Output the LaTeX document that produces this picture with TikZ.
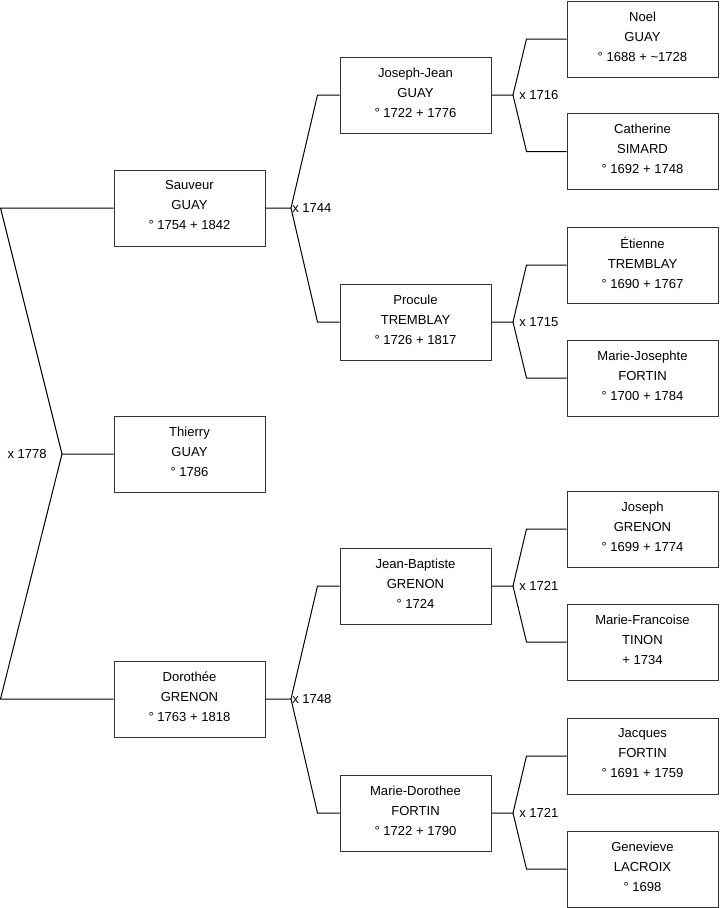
\documentclass[tikz,border=0pt]{standalone}
\usepackage{fontspec}
\setmainfont{Liberation Sans}
\usepackage{tikz}
\usetikzlibrary{calc}

\begin{document}
\begin{tikzpicture}[
    x=0.75pt, y=-0.75pt,
    person/.style={rectangle, draw=black!80, line width=0.75pt, align=center, minimum width=113.25pt, minimum height=57pt, inner sep=0pt, font=\fontsize{9.8}{15}\selectfont},
    link/.style={draw=black, line width=0.75pt},
    wed/.style={inner sep=0pt, font=\fontsize{9.8}{11}\selectfont}
]
\useasboundingbox (0,0) rectangle (719,908);

% generation 1
\node[person] (sauveur) at (189.5,208) {Sauveur\\GUAY\\° 1754 + 1842\\[-11pt]};
\node[person] (thierry) at (189.5,454) {Thierry\\GUAY\\° 1786\\[-11pt]};
\node[person] (dorothee) at (189.5,699) {Dorothée\\GRENON\\° 1763 + 1818\\[-11pt]};

% generation 2
\node[person] (josephjean) at (415.5,95) {Joseph-Jean\\GUAY\\° 1722 + 1776\\[-11pt]};
\node[person] (procule) at (415.5,322) {Procule\\TREMBLAY\\° 1726 + 1817\\[-11pt]};
\node[person] (jeanbaptiste) at (415.5,586) {Jean-Baptiste\\GRENON\\° 1724\\[-11pt]};
\node[person] (mariedorothee) at (415.5,813) {Marie-Dorothee\\FORTIN\\° 1722 + 1790\\[-11pt]};

% generation 3
\node[person] (noel) at (642.5,39) {Noel\\GUAY\\° 1688 + \textasciitilde1728\\[-11pt]};
\node[person] (catherine) at (642.5,151.5) {Catherine\\SIMARD\\° 1692 + 1748\\[-11pt]};
\node[person] (etienne) at (642.5,265) {Étienne\\TREMBLAY\\° 1690 + 1767\\[-11pt]};
\node[person] (mariejosephte) at (642.5,378) {Marie-Josephte\\FORTIN\\° 1700 + 1784\\[-11pt]};
\node[person] (joseph) at (642.5,529) {Joseph\\GRENON\\° 1699 + 1774\\[-11pt]};
\node[person] (mariefrancoise) at (642.5,642) {Marie-Francoise\\TINON\\+ 1734\\[-11pt]};
\node[person] (jacques) at (642.5,756) {Jacques\\FORTIN\\° 1691 + 1759\\[-11pt]};
\node[person] (genevieve) at (642.5,869) {Genevieve\\LACROIX\\° 1698\\[-11pt]};

% marriage forks
\coordinate (w1778) at (62,454);
\coordinate (w1744) at (291,208);
\coordinate (w1748) at (291,699);
\coordinate (w1716) at (513,95);
\coordinate (w1715) at (513,322);
\coordinate (w1721a) at (513,586);
\coordinate (w1721b) at (513,813);

\node[wed, anchor=east] (x1778) at ($(w1778)+(-15,0)$) {x 1778};
\node[wed, anchor=west] (x1744) at ($(w1744)+(1,0)$) {x 1744};
\node[wed, anchor=west] (x1748) at ($(w1748)+(1,0)$) {x 1748};
\node[wed, anchor=west] (x1716) at ($(w1716)+(6,0)$) {x 1716};
\node[wed, anchor=west] (x1715) at ($(w1715)+(6,0)$) {x 1715};
\node[wed, anchor=west] (x1721a) at ($(w1721a)+(6,0)$) {x 1721};
\node[wed, anchor=west] (x1721b) at ($(w1721b)+(6,0)$) {x 1721};

\draw[link] (thierry.west) -- (w1778) -- ($(sauveur.west)+(-113,0)$) -- (sauveur.west);
\draw[link] (w1778) -- ($(dorothee.west)+(-113,0)$) -- (dorothee.west);

\draw[link] (sauveur.east) -- (w1744) -- ($(josephjean.west)+(-22,0)$) -- (josephjean.west);
\draw[link] (w1744) -- ($(procule.west)+(-22,0)$) -- (procule.west);
\draw[link] (dorothee.east) -- (w1748) -- ($(jeanbaptiste.west)+(-22,0)$) -- (jeanbaptiste.west);
\draw[link] (w1748) -- ($(mariedorothee.west)+(-22,0)$) -- (mariedorothee.west);

\draw[link] (josephjean.east) -- (w1716) -- ($(noel.west)+(-40,0)$) -- (noel.west);
\draw[link] (w1716) -- ($(catherine.west)+(-40,0)$) -- (catherine.west);
\draw[link] (procule.east) -- (w1715) -- ($(etienne.west)+(-40,0)$) -- (etienne.west);
\draw[link] (w1715) -- ($(mariejosephte.west)+(-40,0)$) -- (mariejosephte.west);
\draw[link] (jeanbaptiste.east) -- (w1721a) -- ($(joseph.west)+(-40,0)$) -- (joseph.west);
\draw[link] (w1721a) -- ($(mariefrancoise.west)+(-40,0)$) -- (mariefrancoise.west);
\draw[link] (mariedorothee.east) -- (w1721b) -- ($(jacques.west)+(-40,0)$) -- (jacques.west);
\draw[link] (w1721b) -- ($(genevieve.west)+(-40,0)$) -- (genevieve.west);

\end{tikzpicture}
\end{document}
